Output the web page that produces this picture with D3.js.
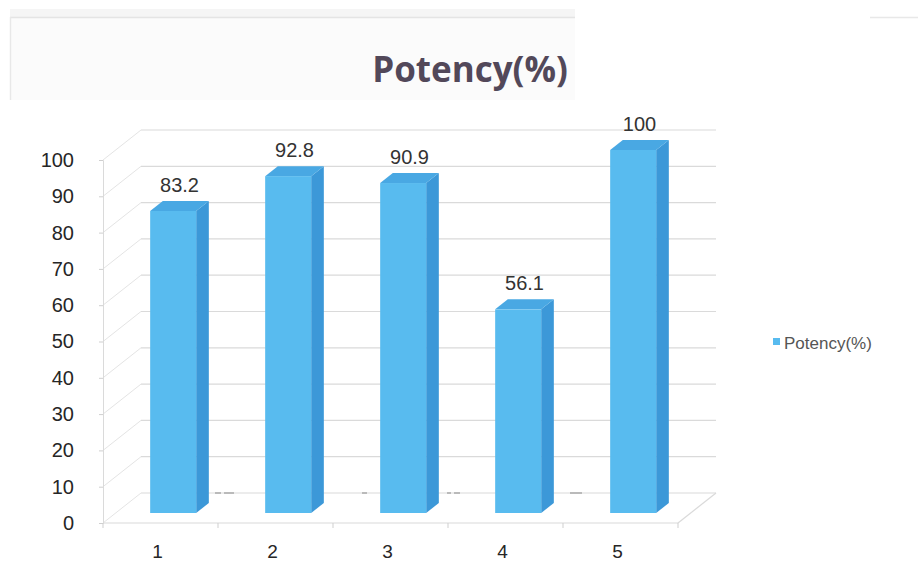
<!DOCTYPE html>
<html>
<head>
<meta charset="utf-8">
<script src="https://cdn.jsdelivr.net/npm/d3@7/dist/d3.min.js"></script>
<style>
  html, body { margin: 0; padding: 0; background: #ffffff; }
  svg { display: block; }
</style>
</head>
<body>
<svg id="chart" width="918" height="584"></svg>
<script>
// Potency (%) per sample
const categories = ["1", "2", "3", "4", "5"];
const potency = [83.2, 92.8, 90.9, 56.1, 100];
const yTicks = [0, 10, 20, 30, 40, 50, 60, 70, 80, 90, 100];
const seriesName = "Potency(%)";
const chartTitle = "Potency(%)";

const svg = d3.select("#chart");

// Front plane of the 3-D box and its depth offset
const front = { left: 103, right: 678, top: 160, bottom: 523 };
const depth = { dx: 38, dy: -30 };
const barDepth = [1 / 3, 2 / 3];   // bars occupy the middle of the floor depth

const x = d3.scaleBand()
  .domain(categories)
  .range([front.left, front.right])
  .paddingInner(0.6)
  .paddingOuter(0.3);

const y = d3.scaleLinear()
  .domain([0, 100])
  .range([front.bottom, front.top]);

const colors = {
  front: "#58bbef",
  side: "#3c98d8",
  top: "#49a8e3",
  grid: "#dadada",
  wall: "#e4e4e4"
};

// Title frame
svg.append("rect").attr("x", 10).attr("y", 9).attr("width", 565).attr("height", 8).attr("fill", "#f5f5f5");
svg.append("rect").attr("x", 10).attr("y", 17).attr("width", 565).attr("height", 83).attr("fill", "#fbfbfb");
svg.append("line").attr("x1", 10).attr("x2", 575).attr("y1", 17.5).attr("y2", 17.5).attr("stroke", "#e4e4e4").attr("stroke-width", 1.5);
svg.append("line").attr("x1", 10.5).attr("x2", 10.5).attr("y1", 17).attr("y2", 100).attr("stroke", "#e8e8e8").attr("stroke-width", 1.5);
svg.append("line").attr("x1", 870).attr("x2", 918).attr("y1", 17.5).attr("y2", 17.5).attr("stroke", "#e8e8e8").attr("stroke-width", 1.5);

svg.append("text")
  .attr("x", 470).attr("y", 82)
  .attr("text-anchor", "middle")
  .attr("font-family", "'Open Sans', sans-serif")
  .attr("font-weight", 700)
  .attr("font-size", 35)
  .attr("fill", "#524859")
  .text(chartTitle);

// Back wall gridlines and side-wall diagonals
const walls = svg.append("g");
yTicks.forEach(v => {
  walls.append("line")
    .attr("x1", front.left + depth.dx).attr("x2", front.right + depth.dx)
    .attr("y1", y(v) + depth.dy).attr("y2", y(v) + depth.dy)
    .attr("stroke", colors.grid).attr("stroke-width", 1.2);
  walls.append("line")
    .attr("x1", front.left).attr("x2", front.left + depth.dx)
    .attr("y1", y(v)).attr("y2", y(v) + depth.dy)
    .attr("stroke", colors.wall).attr("stroke-width", 1);
});
// dark dashes along the back floor edge
walls.append("line")
  .attr("x1", front.left + depth.dx).attr("x2", front.right + depth.dx)
  .attr("y1", y(0) + depth.dy).attr("y2", y(0) + depth.dy)
  .attr("stroke", "#555").attr("stroke-width", 1)
  .attr("stroke-dasharray", "0 74 6 3 10 128 5 80 4 3 6 110 12 600")
  .attr("opacity", 0.65);

// Floor outline
walls.append("line")
  .attr("x1", front.left).attr("x2", front.right)
  .attr("y1", y(0)).attr("y2", y(0))
  .attr("stroke", colors.grid).attr("stroke-width", 1.2);
walls.append("line")
  .attr("x1", front.right).attr("x2", front.right + depth.dx)
  .attr("y1", y(0)).attr("y2", y(0) + depth.dy)
  .attr("stroke", colors.grid).attr("stroke-width", 1.2);

// Left value axis
const yAxis = d3.axisLeft(y).tickValues(yTicks).tickSize(4).tickPadding(25);
const gy = svg.append("g").attr("transform", `translate(${front.left},0)`).call(yAxis);
gy.select(".domain").attr("stroke", colors.grid);
gy.selectAll(".tick line").attr("stroke", "#cfcfcf");
gy.selectAll(".tick text")
  .attr("font-family", "'Liberation Sans', Arial, sans-serif")
  .attr("font-size", 20)
  .attr("fill", "#262626");

// Category axis along the front floor edge
const xAxis = d3.axisBottom(x).tickSize(0).tickPadding(22);
const gx = svg.append("g").attr("transform", `translate(0,${front.bottom})`).call(xAxis);
gx.select(".domain").remove();
gx.selectAll(".tick text")
  .attr("dx", -3)
  .attr("font-family", "'Liberation Sans', Arial, sans-serif")
  .attr("font-size", 19)
  .attr("fill", "#262626");
// tick marks at the category boundaries
const boundaryX = d3.range(categories.length + 1).map(i => front.left + i * (front.right - front.left) / categories.length);
svg.append("g").selectAll("line")
  .data(boundaryX)
  .join("line")
  .attr("x1", d => d).attr("x2", d => d)
  .attr("y1", y(0)).attr("y2", y(0) + 5)
  .attr("stroke", "#cfcfcf");

// 3-D bars
const bw = x.bandwidth();
const f0 = barDepth[0], f1 = barDepth[1];
const ox0 = depth.dx * f0, oy0 = depth.dy * f0;
const ox1 = depth.dx * f1, oy1 = depth.dy * f1;
const sdx = ox1 - ox0, sdy = oy1 - oy0;
const bars = svg.append("g").selectAll("g")
  .data(categories.map((c, i) => ({ c, v: potency[i] })))
  .join("g");

// side face
bars.append("path")
  .attr("d", d => {
    const xr = x(d.c) + bw + ox0, yt = y(d.v) + oy0, yb = y(0) + oy0;
    return `M${xr},${yt} L${xr + sdx},${yt + sdy} L${xr + sdx},${yb + sdy} L${xr},${yb} Z`;
  })
  .attr("fill", colors.side);
// top face
bars.append("path")
  .attr("d", d => {
    const xl = x(d.c) + ox0, yt = y(d.v) + oy0;
    return `M${xl},${yt} L${xl + sdx},${yt + sdy} L${xl + bw + sdx},${yt + sdy} L${xl + bw},${yt} Z`;
  })
  .attr("fill", colors.top);
// front face
bars.append("rect")
  .attr("x", d => x(d.c) + ox0)
  .attr("y", d => y(d.v) + oy0)
  .attr("width", bw)
  .attr("height", d => y(0) - y(d.v))
  .attr("fill", colors.front);

// Value labels above each bar
bars.append("text")
  .attr("x", d => x(d.c) + ox0 + (bw + sdx) / 2)
  .attr("y", d => y(d.v) + oy1 - 9)
  .attr("text-anchor", "middle")
  .attr("font-family", "'Liberation Sans', Arial, sans-serif")
  .attr("font-size", 20)
  .attr("fill", "#333")
  .text(d => d.v);

// Legend
const legend = svg.append("g").attr("transform", "translate(773,338)");
legend.append("rect").attr("width", 7).attr("height", 7).attr("fill", colors.front);
legend.append("text")
  .attr("x", 11).attr("y", 11)
  .attr("font-family", "'Liberation Sans', Arial, sans-serif")
  .attr("font-size", 17)
  .attr("fill", "#555")
  .text(seriesName);
</script>
</body>
</html>
